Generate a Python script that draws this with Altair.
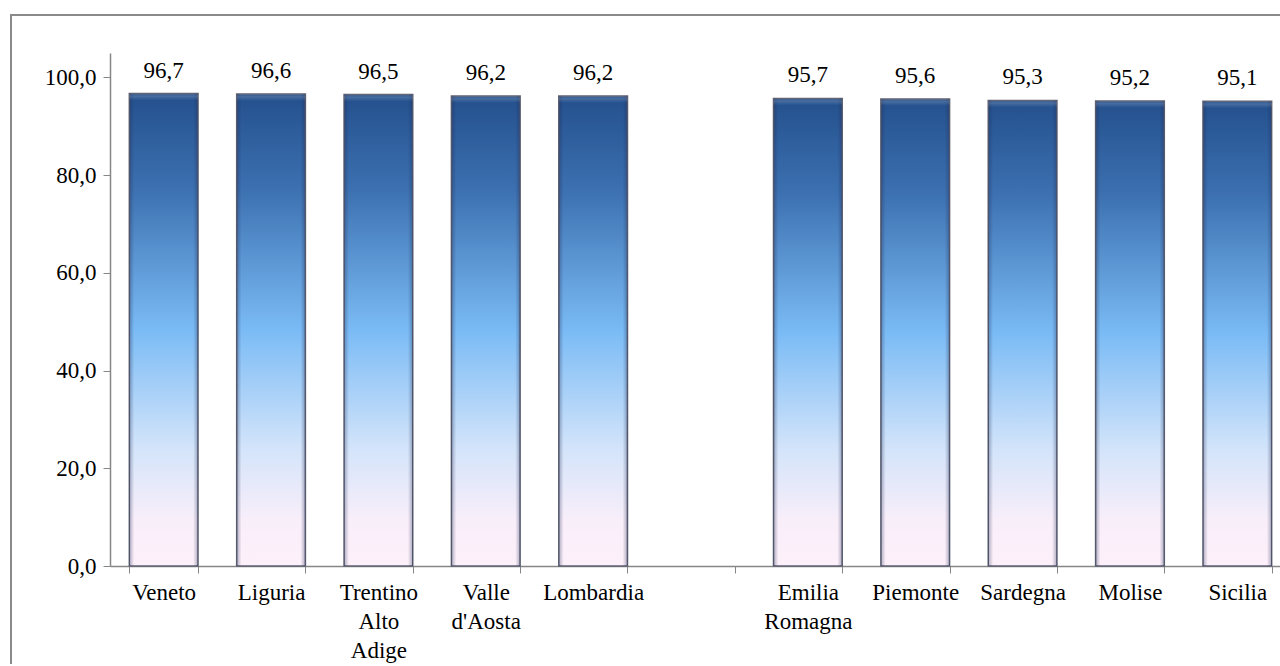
import altair as alt
import pandas as pd

# Regional values (percent), in display order; the blank entry is the gap slot
regions = ["Veneto", "Liguria", "Trentino|Alto|Adige", "Valle|d'Aosta", "Lombardia",
           " ",
           "Emilia|Romagna", "Piemonte", "Sardegna", "Molise", "Sicilia"]
values = [96.7, 96.6, 96.5, 96.2, 96.2, 95.7, 95.6, 95.3, 95.2, 95.1]
bar_regions = [r for r in regions if r.strip()]

y_ticks = [0, 20, 40, 60, 80, 100]

df = pd.DataFrame({"region": bar_regions, "value": values})

FONT = "Liberation Serif"
FS = 23
PLOT_W = 1170
PLOT_H = 513
BAND_RANGE = 1181

x_enc = alt.X(
    "region:N",
    sort=regions,
    scale=alt.Scale(domain=regions, range=[0, BAND_RANGE], paddingInner=0.36, paddingOuter=0.18),
    axis=alt.Axis(
        title=None,
        labelAngle=0,
        tickBand="extent",
        tickSize=7,
        tickColor="#868686",
        domainColor="#868686",
        domainWidth=1.5,
        labelPadding=8,
        labelLineHeight=29,
        labelFont=FONT,
        labelFontSize=FS,
        labelColor="#000000",
        labelExpr="split(datum.label, '|')",
    ),
)

y_enc = alt.Y(
    "value:Q",
    scale=alt.Scale(domain=[0, 105], nice=False),
    axis=alt.Axis(
        title=None,
        values=y_ticks,
        grid=False,
        tickSize=7,
        tickColor="#868686",
        domainColor="#868686",
        domainWidth=1.5,
        labelPadding=7,
        labelFont=FONT,
        labelFontSize=FS,
        labelColor="#000000",
        labelExpr="replace(format(datum.value, '.1f'), '.', ',')",
    ),
)

# Vertical fill: dark blue at the top fading through sky blue to a pale pink base
body_fill = alt.LinearGradient(
    gradient="linear",
    x1=0, y1=0, x2=0, y2=1,
    stops=[
        alt.GradientStop(offset=0.0, color="#24508d"),
        alt.GradientStop(offset=0.2, color="#3c70b0"),
        alt.GradientStop(offset=0.5, color="#7abbf5"),
        alt.GradientStop(offset=0.75, color="#d3e4fa"),
        alt.GradientStop(offset=0.9, color="#f8eefa"),
        alt.GradientStop(offset=1.0, color="#fdf0fa"),
    ],
)

# Side shading to give the bars a rounded, bevelled look
edge_fill = alt.LinearGradient(
    gradient="linear",
    x1=0, y1=0, x2=1, y2=0,
    stops=[
        alt.GradientStop(offset=0.0, color="rgba(30,40,80,0.35)"),
        alt.GradientStop(offset=0.07, color="rgba(30,40,80,0.0)"),
        alt.GradientStop(offset=0.93, color="rgba(30,40,80,0.0)"),
        alt.GradientStop(offset=1.0, color="rgba(30,40,80,0.35)"),
    ],
)

# Soft light chamfer along the top edge of each bar
cap_fill = alt.LinearGradient(
    gradient="linear",
    x1=0, y1=0, x2=0, y2=1,
    stops=[
        alt.GradientStop(offset=0.0, color="rgba(255,255,255,0.05)"),
        alt.GradientStop(offset=0.4, color="rgba(255,255,255,0.16)"),
        alt.GradientStop(offset=1.0, color="rgba(255,255,255,0.0)"),
    ],
)

base = alt.Chart(df)

bars = base.mark_bar(fill=body_fill, stroke="#5d6172", strokeWidth=1.5, clip=False).encode(
    x=x_enc, y=y_enc
)

edges = base.mark_bar(fill=edge_fill, clip=False).encode(x=x_enc, y=y_enc)

caps = base.transform_calculate(cap_low="datum.value - 1.4").mark_bar(
    fill=cap_fill, clip=False
).encode(x=x_enc, y=y_enc, y2="cap_low:Q")

labels = base.transform_calculate(
    txt="replace(format(datum.value, '.1f'), '.', ',')"
).mark_text(
    font=FONT, fontSize=FS, baseline="alphabetic", dy=-16, color="#000000"
).encode(x=x_enc, y=y_enc, text="txt:N")

frame = alt.Chart(alt.Data(values=[{}])).mark_rect(
    fill="transparent", stroke="#8a8a8a", strokeWidth=2, clip=False
).encode(
    x=alt.value(-99), x2=alt.value(1400),
    y=alt.value(-38), y2=alt.value(800),
)

chart = alt.layer(frame, bars, edges, caps, labels).properties(
    width=PLOT_W,
    height=PLOT_H,
    autosize=alt.AutoSizeParams(type="none"),
    padding={"left": 110, "top": 53, "right": 0, "bottom": 98},
    background="#ffffff",
).configure_view(stroke=None).configure_text(font=FONT)

chart.save("out.html", embed_options={"renderer": "svg", "actions": False})
